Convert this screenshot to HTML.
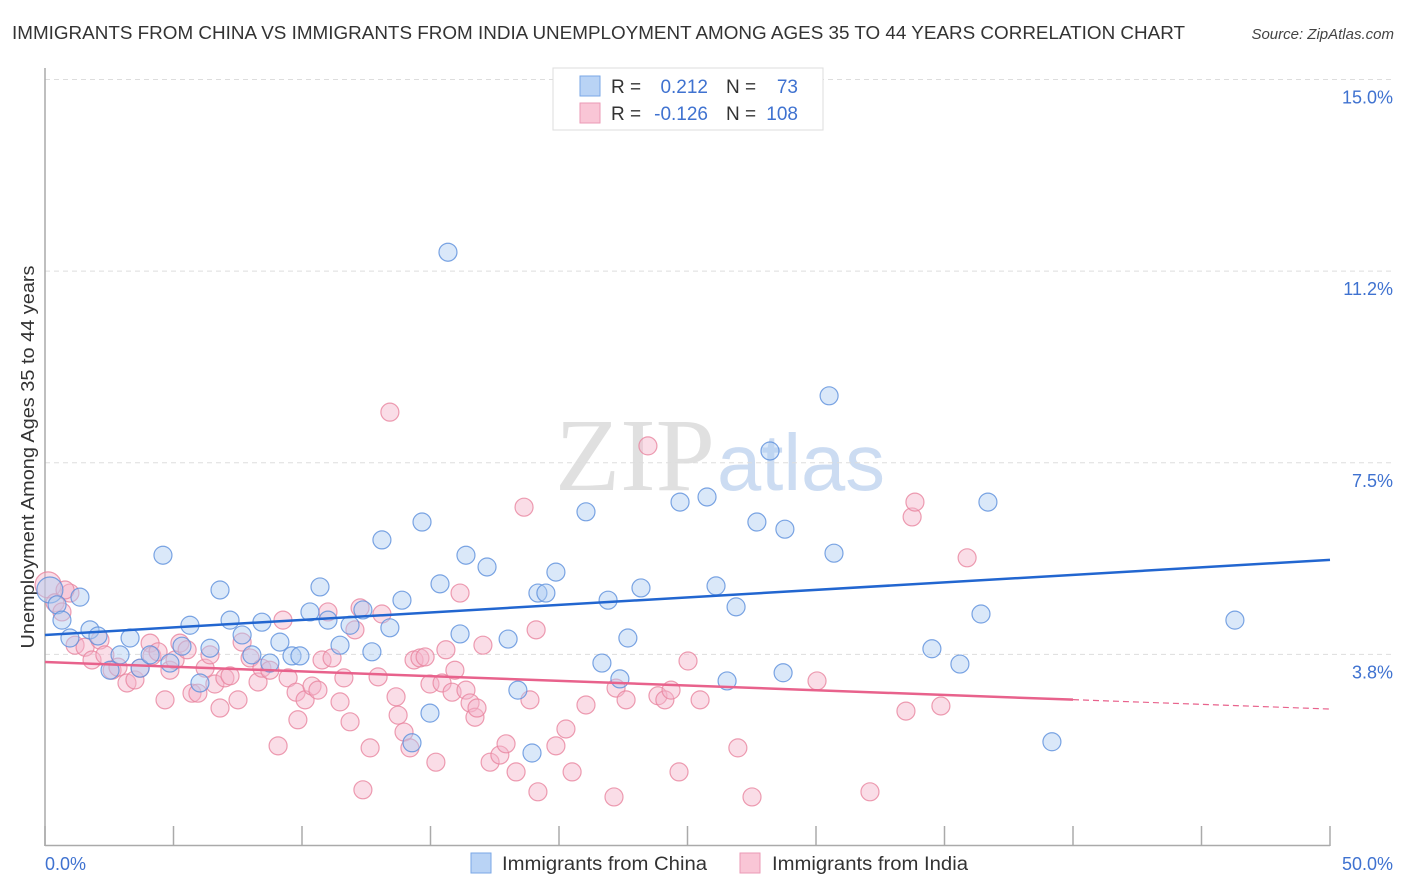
<!DOCTYPE html>
<html><head><meta charset="utf-8"><style>
body{margin:0;background:#fff;font-family:"Liberation Sans",sans-serif;}
svg{display:block}
</style></head><body>
<svg id="chart" width="1406" height="892" xmlns="http://www.w3.org/2000/svg">
<text x="12" y="39" font-size="18" fill="#333" textLength="1173" lengthAdjust="spacingAndGlyphs">IMMIGRANTS FROM CHINA VS IMMIGRANTS FROM INDIA UNEMPLOYMENT AMONG AGES 35 TO 44 YEARS CORRELATION CHART</text>
<text x="1394" y="39" font-size="15" fill="#444" font-style="italic" text-anchor="end">Source: ZipAtlas.com</text>
<text x="555" y="490" font-size="104" fill="#e0e0e0" font-family="Liberation Serif, serif" textLength="160" lengthAdjust="spacingAndGlyphs">ZIP</text>
<text x="717" y="490" font-size="80" fill="#ccdcf2" textLength="168" lengthAdjust="spacingAndGlyphs">atlas</text>
<text transform="translate(34,457) rotate(-90)" font-size="18" fill="#333" text-anchor="middle" textLength="383" lengthAdjust="spacingAndGlyphs">Unemployment Among Ages 35 to 44 years</text>
<g id="grid"></g><g id="axes"></g><g id="pts"></g><g id="lines"></g>
<g>
<rect x="553" y="68" width="270" height="62" fill="#fff" stroke="#ddd"/>
<rect x="580" y="76" width="20" height="20" fill="#b9d3f5" stroke="#7aa7e6"/>
<rect x="580" y="103" width="20" height="20" fill="#f9c6d6" stroke="#eb9ab6"/>
<text x="611" y="93" font-size="19" fill="#333">R = </text><text x="708" y="93" font-size="19" fill="#3f72d0" text-anchor="end">0.212</text>
<text x="726" y="93" font-size="19" fill="#333">N = </text><text x="798" y="93" font-size="19" fill="#3f72d0" text-anchor="end">73</text>
<text x="611" y="120" font-size="19" fill="#333">R = </text><text x="708" y="120" font-size="19" fill="#3f72d0" text-anchor="end">-0.126</text>
<text x="726" y="120" font-size="19" fill="#333">N = </text><text x="798" y="120" font-size="19" fill="#3f72d0" text-anchor="end">108</text>
</g>
<g>
<rect x="471" y="853" width="20" height="20" fill="#b9d3f5" stroke="#7aa7e6"/>
<text x="502" y="870" font-size="19" fill="#333" textLength="205" lengthAdjust="spacingAndGlyphs">Immigrants from China</text>
<rect x="740" y="853" width="20" height="20" fill="#f9c6d6" stroke="#eb9ab6"/>
<text x="772" y="870" font-size="19" fill="#333" textLength="196" lengthAdjust="spacingAndGlyphs">Immigrants from India</text>
</g>
</svg>
<script>
const yTicks=[3.75,7.5,11.25,15.0];
const yTickLabels=["3.8%","7.5%","11.2%","15.0%"];
const xTickVals=[0,5,10,15,20,25,30,35,40,45,50];
const chinaX=[0.19,0.47,0.66,1.36,0.97,1.75,2.06,2.53,2.92,3.31,3.70,4.09,4.59,4.86,5.33,5.64,6.03,6.42,6.81,7.20,7.67,8.05,8.44,8.75,9.14,9.61,9.92,10.31,10.70,11.01,11.48,11.87,12.37,12.72,13.11,13.42,13.89,14.28,14.67,14.98,15.37,16.15,16.38,17.20,18.40,18.02,18.95,19.18,19.49,19.88,21.05,21.67,21.91,22.37,22.68,23.19,24.71,25.76,26.11,26.54,26.89,27.70,28.21,28.79,28.72,30.51,30.70,34.51,35.60,36.42,36.69,39.18,46.30,15.68];
const chinaY=[5.01,4.72,4.42,4.87,4.07,4.23,4.11,3.44,3.74,4.07,3.48,3.74,5.69,3.58,3.91,4.32,3.19,3.87,5.01,4.42,4.13,3.74,4.38,3.58,3.99,3.72,3.72,4.58,5.07,4.42,3.93,4.32,4.62,3.80,5.99,4.27,4.81,2.02,6.34,2.60,5.13,4.15,5.69,5.46,3.05,4.05,1.82,4.95,4.95,5.36,6.54,3.58,4.81,3.27,4.07,5.05,6.73,6.83,5.09,3.23,4.68,6.34,7.73,6.20,3.39,8.81,5.73,3.86,3.56,4.54,6.73,2.04,4.42,11.62];
const indiaX=[0.12,0.39,0.66,0.97,0.78,1.17,1.56,1.83,2.14,2.33,2.61,2.84,3.19,3.50,3.70,4.09,4.16,4.40,4.67,4.86,5.06,5.25,5.53,5.72,5.95,6.23,6.42,6.61,6.81,7.00,7.20,7.51,7.67,7.98,8.29,8.44,8.75,9.07,9.26,9.46,9.77,9.84,10.12,10.39,10.62,10.78,11.01,11.17,11.48,11.63,11.87,12.06,12.26,12.37,12.65,12.96,13.11,13.42,13.66,13.74,13.97,14.20,14.36,14.59,14.79,14.98,15.21,15.45,15.60,15.84,15.95,16.15,16.38,16.54,16.73,16.81,17.04,17.32,17.70,17.94,18.33,18.64,18.87,19.11,19.18,19.88,20.27,20.51,21.05,22.14,22.22,22.61,23.46,23.85,24.12,24.36,24.67,25.02,25.49,26.96,27.51,30.04,32.10,33.50,33.74,33.85,34.86,35.88];
const indiaY=[5.11,4.76,4.58,4.95,5.01,3.93,3.89,3.64,4.03,3.74,3.44,3.50,3.19,3.25,3.48,3.97,3.72,3.80,2.86,3.44,3.64,3.97,3.84,2.99,2.99,3.48,3.74,3.17,2.70,3.29,3.33,2.86,3.99,3.68,3.21,3.48,3.44,1.96,4.42,3.29,3.01,2.47,2.86,3.13,3.05,3.64,4.58,3.68,2.82,3.29,2.43,4.23,4.66,1.10,1.92,3.31,4.54,8.49,2.92,2.56,2.23,1.92,3.64,3.68,3.70,3.17,1.64,3.19,3.84,3.01,3.44,4.95,3.05,2.80,2.52,2.70,3.93,1.64,1.78,2.00,1.45,6.63,2.86,4.23,1.06,1.96,2.29,1.45,2.76,0.96,3.09,2.86,7.83,2.94,2.86,3.05,1.45,3.62,2.86,1.92,0.96,3.23,1.06,2.64,6.44,6.73,2.74,5.64];
const chinaFit=[4.13,5.60];
const indiaFit=[3.60,2.68];
const indiaFitSolidEnd=40;
const NS="http://www.w3.org/2000/svg";
const X0=45,X1=1330,Y0=846,YS=51.1;
function sx(v){return X0+(v/50)*(X1-X0);}
function sy(v){return Y0-v*YS;}
function mk(t,a,p){const e=document.createElementNS(NS,t);for(const k in a)e.setAttribute(k,a[k]);p.appendChild(e);return e;}
const grid=document.getElementById('grid'),axes=document.getElementById('axes'),pts=document.getElementById('pts'),lines=document.getElementById('lines');
yTicks.forEach((v,i)=>{
 const l=mk('line',{x1:X0,x2:1393,y1:sy(v),y2:sy(v),stroke:'#ddd','stroke-dasharray':'5,4'},grid);
 
 
 const t=mk('text',{x:1393,y:sy(v)+24,'font-size':18,fill:'#3f72d0','text-anchor':'end'},grid);
 t.textContent=yTickLabels[i];
 
 
});
const ya=mk('line',{x1:X0,x2:X0,y1:68,y2:846,stroke:'#aaa','stroke-width':1.5},axes);


const xa=mk('line',{x1:X0,x2:X1,y1:845.5,y2:845.5,stroke:'#aaa','stroke-width':1.5},axes);


xTickVals.forEach(v=>{
 const t=mk('line',{x1:sx(v),x2:sx(v),y1:826,y2:846,stroke:'#aaa','stroke-width':1.5},axes);
 
 
});
const xl0=mk('text',{x:45,y:870,'font-size':18,fill:'#3f72d0'},axes);xl0.textContent='0.0%';


const xl1=mk('text',{x:1393,y:870,'font-size':18,fill:'#3f72d0','text-anchor':'end'},axes);xl1.textContent='50.0%';


function dots(xs,ys,fill,stroke,name){
 xs.forEach((x,i)=>{
  const r=i===0?13:9;
  const c=mk('circle',{cx:sx(x),cy:sy(ys[i]),r:r,fill:fill,'fill-opacity':0.45,stroke:stroke,'stroke-opacity':0.8,'stroke-width':1.2},pts);
  
  
 });
}
dots(indiaX,indiaY,'#f5b4c9','#e8849f','india-point');
dots(chinaX,chinaY,'#aecbf2','#5b8fdc','china-point');
const cl=mk('line',{x1:sx(0),y1:sy(chinaFit[0]),x2:sx(50),y2:sy(chinaFit[1]),stroke:'#2266d0','stroke-width':2.5},lines);


const iy=v=>indiaFit[0]+(indiaFit[1]-indiaFit[0])*v/50;
const il=mk('line',{x1:sx(0),y1:sy(iy(0)),x2:sx(indiaFitSolidEnd),y2:sy(iy(indiaFitSolidEnd)),stroke:'#e8628c','stroke-width':2.5},lines);


const id=mk('line',{x1:sx(indiaFitSolidEnd),y1:sy(iy(indiaFitSolidEnd)),x2:sx(50),y2:sy(iy(50)),stroke:'#e8628c','stroke-width':1.2,'stroke-dasharray':'6,4'},lines);


</script>
</body></html>
